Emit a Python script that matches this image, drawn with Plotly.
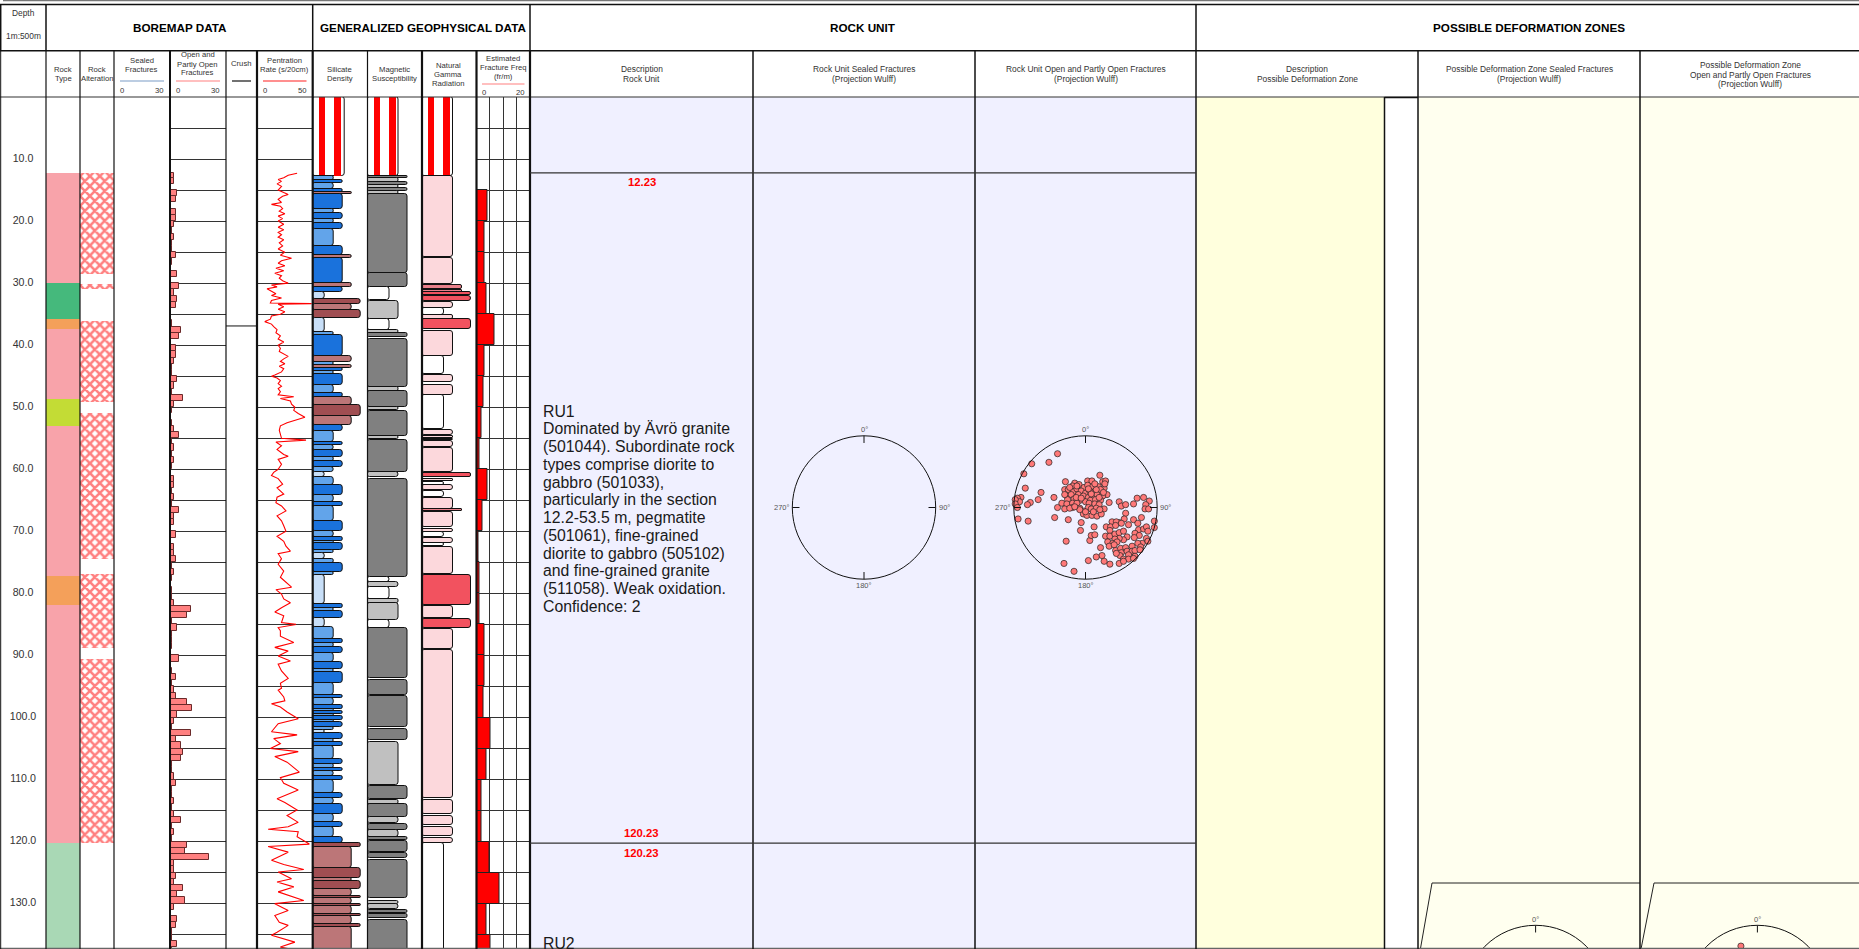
import math
import plotly.graph_objects as go

W, H = 1859, 949
FONT = "Liberation Sans"
TOP = 97
PX_PER_M = 6.205
MAX_D = (H - TOP) / PX_PER_M

DEPTH_LABELS = [10, 20, 30, 40, 50, 60, 70, 80, 90, 100, 110, 120, 130]

ROCK_TYPE = [(12.23, 30.0, "granite"), (30.0, 35.8, "diorite"), (35.8, 37.4, "pegmatite"),
             (37.4, 48.7, "granite"), (48.7, 53.0, "finegrained"), (53.0, 77.2, "granite"),
             (77.2, 81.9, "pegmatite"), (81.9, 120.23, "granite"), (120.23, 140.0, "gabbro")]
ALTERATION = [(12.23, 28.6), (30.2, 31.0), (36.1, 49.1), (51.0, 74.5), (76.8, 88.8), (90.6, 120.2)]

OPEN_TOP = [12.23, 13, 15, 16, 18, 19, 20, 21, 22, 23, 24, 25, 26, 28, 30, 31, 32, 33, 36, 37, 38, 40, 41, 42, 43,
            44, 45, 46, 47, 48, 49, 50, 52, 53, 54, 55, 56, 57, 58, 59, 61, 62, 63, 64, 65, 66, 67, 68, 70, 72, 73,
            74, 75, 76, 77, 79, 80, 81, 82, 83, 84, 85, 86, 87, 88, 90, 92, 93, 94, 95, 96, 97, 98, 99, 100, 101,
            102, 103, 104, 105, 106, 107, 108, 109, 110, 111, 112, 113, 114, 115, 116, 117, 118, 119, 120, 121,
            122, 123, 124, 125, 126, 127, 128, 129, 130, 132, 133, 134, 135, 136, 137]
OPEN_COUNT = [2, 2, 4, 3, 3, 3, 2, 1, 2, 1, 1, 3, 1, 4, 5, 2, 4, 3, 1, 6, 5, 3, 3, 2, 1,
              1, 4, 2, 1, 7, 2, 1, 1, 2, 5, 1, 2, 1, 2, 1, 2, 2, 1, 2, 1, 5, 2, 2, 3, 2, 2,
              3, 1, 2, 1, 1, 1, 2, 11, 9, 1, 4, 1, 1, 1, 5, 1, 3, 1, 2, 3, 9, 12, 4, 2, 1,
              11, 3, 6, 7, 6, 1, 1, 2, 3, 1, 1, 2, 1, 2, 6, 1, 2, 1, 9, 8,
              21, 2, 2, 3, 2, 7, 4, 8, 2, 4, 3, 1, 1, 4, 1]

CRUSH_DEPTH = [36.9]

PEN_DEPTH = [12.3, 12.6, 13, 13.3, 13.6, 14, 14.4, 14.8, 15, 15.4, 15.7, 16, 16.5, 17, 17.3, 17.6, 18, 18.4, 18.8, 19.2,
             19.6, 20, 20.5, 21, 21.4, 21.8, 22.2, 22.6, 23, 23.5, 24, 24.5, 25, 25.5, 26, 26.4, 26.8, 27.2, 27.6, 28,
             28.4, 28.8, 29.2, 29.6, 30, 30.3, 30.6, 30.9, 31.3, 31.7, 32, 32.4, 32.8, 33.2, 33.3, 33.4, 33.8, 34.2,
             34.6, 35, 35.3, 35.8, 36.2, 36.6, 37, 37.5, 38, 38.5, 39, 39.5, 40, 40.5, 41, 41.4, 41.8, 42.2, 42.6, 43,
             43.4, 43.8, 44.3, 44.8, 45, 45.3, 45.7, 46.2, 46.6, 47, 47.5, 48, 48.3, 48.6, 49, 49.5, 50, 50.5, 51, 51.6,
             52, 52.5, 53, 53.7, 55, 55.3, 55.6, 56.2, 56.8, 57.6, 57.9, 58.4, 59.2, 60, 60.5, 61, 61.5, 62.4, 63, 64,
             64.5, 65.4, 65.9, 66.7, 67.5, 68.3, 69.1, 70, 70.8, 71.6, 72.4, 73.2, 73.6, 74.4, 75.3, 76.4, 77.4, 78.2,
             79, 79.4, 80.1, 80.9, 81.5, 82.3, 83, 83.6, 84.7, 85, 85.5, 86, 86.9, 87.9, 88.7, 89.3, 90.1, 90.9, 91.4,
             92.5, 93.7, 94.5, 95.3, 95.6, 96.7, 97.3, 97.8, 98.3, 99.1, 100.2, 101, 102.3, 102.8, 103.4, 104.2, 105,
             105.5, 106.3, 107.2, 108.8, 109.7, 110.6, 111.7, 113.1, 113.7, 114.9, 115.8, 116.9, 117.6, 118, 118.4,
             119.2, 120.4, 120.8, 121.7, 123, 123.7, 124.5, 124.9, 126, 126.5, 127.3, 128.1, 129.5, 130, 131.1, 131.9,
             133, 133.5, 134.6, 135.1, 136.2, 137, 137.3]
PEN_RATE = [36, 28, 24, 19, 22, 18, 22, 20, 19, 24, 28, 23, 19, 22, 13, 21, 23, 20, 25, 19,
            23, 19, 24, 19, 24, 19, 22, 19, 24, 20, 23, 19, 25, 21, 31, 22, 19, 25, 17, 24,
            16, 22, 20, 23, 28, 13, 18, 9, 13, 17, 13, 22, 13, 12, 49, 19, 24, 19,
            25, 21, 13, 12, 7, 13, 15, 18, 17, 21, 19, 24, 19, 21, 20, 24, 28, 24, 21, 25,
            20, 24, 22, 16, 13, 18, 21, 19, 22, 19, 21, 19, 33, 21, 30, 31, 34, 33, 37, 43,
            36, 27, 21, 20, 22, 44, 17, 22, 18, 24, 28, 19, 22, 19, 15, 13, 19, 23, 18, 24,
            18, 17, 22, 26, 18, 22, 24, 26, 18, 24, 26, 30, 19, 22, 19, 24, 21, 26,
            31, 17, 22, 24, 30, 22, 16, 24, 22, 35, 19, 21, 21, 33, 16, 28, 19, 30, 19,
            22, 28, 21, 22, 19, 24, 25, 13, 21, 27, 37, 19, 13, 36, 15, 21, 12,
            37, 16, 27, 38, 21, 24, 37, 18, 25, 36, 27, 37, 28, 10, 37,
            36, 47, 10, 28, 13, 24, 42, 19, 31, 18, 33, 19, 42, 16, 28, 16,
            20, 28, 18, 13, 34, 21, 30]

SILICATE = [(12.8, 13.4, "B"), (13.4, 13.8, "C"), (13.8, 14.9, "B"), (14.9, 15.3, "C"), (15.3, 15.6, "D"),
            (15.6, 18.1, "C"), (18.1, 18.7, "B"), (18.7, 19.7, "C"), (19.7, 20.3, "B"), (20.3, 21.2, "C"),
            (21.2, 24.0, "B"), (24.0, 25.5, "C"), (25.5, 25.9, "D"), (25.9, 30.0, "C"), (30.0, 30.6, "D"),
            (30.6, 31.4, "C"), (31.4, 32.6, "A"), (32.6, 33.4, "E"), (33.4, 34.3, "D"), (34.3, 35.6, "E"),
            (35.6, 37.8, "A"), (37.8, 38.36, "B"), (38.36, 41.74, "C"), (41.74, 42.65, "D"), (42.65, 43.24, "B"),
            (43.24, 43.67, "D"), (43.67, 44.1, "C"), (44.1, 44.7, "B"), (44.7, 46.47, "C"), (46.47, 47.76, "B"),
            (47.76, 48.4, "C"), (48.4, 49.64, "D"), (49.64, 51.4, "E"), (51.4, 52.9, "D"), (52.9, 53.83, "C"),
            (53.83, 55.6, "B"), (55.6, 56.1, "C"), (56.1, 56.9, "B"), (56.9, 57.96, "C"), (57.96, 58.7, "B"),
            (58.7, 59.6, "C"), (59.6, 60.4, "B"), (60.4, 61.2, "A"), (61.2, 62.6, "B"), (62.6, 64.1, "C"),
            (64.1, 65.2, "B"), (65.2, 65.9, "C"), (65.9, 68.4, "B"), (68.4, 69.9, "C"), (69.9, 70.9, "B"),
            (70.9, 71.5, "C"), (71.5, 71.9, "B"), (71.9, 73.0, "C"), (73.0, 73.5, "B"), (73.5, 74.4, "A"),
            (74.4, 75.05, "B"), (75.05, 76.6, "C"), (76.6, 77.0, "B"), (77.0, 81.76, "A"), (81.76, 82.3, "C"),
            (82.3, 82.84, "B"), (82.84, 84.0, "C"), (84.0, 85.4, "A"), (85.4, 87.4, "B"), (87.4, 88.05, "C"),
            (88.05, 88.6, "B"), (88.6, 89.55, "C"), (89.55, 91.0, "B"), (91.0, 92.25, "C"), (92.25, 92.6, "B"),
            (92.6, 94.5, "C"), (94.5, 96.4, "B"), (96.4, 96.9, "C"), (96.9, 98.0, "B"), (98.0, 98.6, "C"),
            (98.6, 98.95, "B"), (98.95, 99.4, "C"), (99.4, 99.75, "B"), (99.75, 100.4, "C"), (100.4, 100.7, "B"),
            (100.7, 101.5, "C"), (101.5, 102.0, "B"), (102.0, 102.55, "A"), (102.55, 103.4, "C"), (103.4, 103.95, "B"),
            (103.95, 104.6, "C"), (104.6, 106.75, "B"), (106.75, 107.5, "C"), (107.5, 108.2, "B"), (108.2, 108.6, "C"),
            (108.6, 109.5, "B"), (109.5, 110.1, "C"), (110.1, 112.2, "B"), (112.2, 112.9, "C"), (112.9, 113.9, "B"),
            (113.9, 115.6, "C"), (115.6, 116.9, "B"), (116.9, 117.6, "C"), (117.6, 119.3, "B"), (119.3, 120.3, "C"),
            (120.3, 120.8, "E"), (120.8, 124.2, "D"), (124.2, 125.9, "E"), (125.9, 126.4, "D"), (126.4, 127.7, "E"),
            (127.7, 128.7, "D"), (128.7, 129.1, "E"), (129.1, 130.0, "D"), (130.0, 130.4, "E"), (130.4, 131.6, "D"),
            (131.6, 132.0, "E"), (132.0, 133.2, "D"), (133.2, 133.8, "E"), (133.8, 139.0, "D")]

MAGNETIC = [(12.8, 13.1, "C"), (13.1, 13.75, "B"), (13.75, 14.2, "C"), (14.2, 14.7, "B"), (14.7, 15.15, "C"),
            (15.15, 15.6, "B"), (15.6, 28.3, "C"), (28.4, 30.7, "C"), (30.7, 32.7, "W"), (32.8, 35.7, "B"),
            (35.7, 37.55, "W"), (37.55, 38.1, "B"), (38.1, 38.6, "C"), (39.0, 46.8, "C"), (46.8, 47.3, "B"),
            (47.4, 49.9, "C"), (50.0, 50.5, "B"), (50.65, 54.7, "C"), (54.7, 55.1, "B"), (55.2, 60.5, "C"),
            (60.5, 61.3, "B"), (61.5, 77.3, "C"), (77.3, 78.1, "W"), (78.2, 78.9, "B"), (78.9, 80.95, "W"),
            (80.95, 81.5, "B"), (81.6, 84.3, "B"), (84.3, 85.5, "W"), (85.6, 93.7, "C"), (93.9, 96.4, "C"),
            (96.5, 101.6, "C"), (101.9, 103.7, "C"), (103.9, 110.9, "B"), (111.0, 113.2, "C"), (113.3, 113.9, "B"),
            (114.0, 115.99, "C"), (116.1, 117.05, "B"), (117.2, 118.1, "C"), (118.2, 119.2, "B"), (119.2, 119.7, "C"),
            (119.9, 121.6, "C"), (121.9, 122.7, "C"), (123.0, 129.1, "C"), (129.5, 130.1, "B"), (130.1, 130.9, "B"),
            (131.0, 131.45, "C"), (131.6, 132.3, "C"), (132.7, 139.0, "C")]

GAMMA = [(12.8, 25.8, "P"), (26.0, 30.2, "P"), (30.3, 31.0, "M"), (31.1, 31.4, "M"), (31.5, 31.9, "R"),
         (32.0, 32.9, "R"), (33.0, 34.0, "P"), (34.0, 35.1, "W"), (35.2, 35.7, "P"), (35.7, 37.45, "R"),
         (37.65, 41.7, "P"), (41.7, 44.7, "W"), (44.85, 46.0, "P"), (46.4, 48.1, "P"), (48.1, 53.5, "W"),
         (53.7, 54.5, "P"), (54.6, 55.0, "P"), (55.05, 55.3, "P"), (55.4, 56.4, "P"), (56.6, 60.4, "P"),
         (60.6, 61.3, "R"), (61.5, 61.9, "P"), (62.0, 62.6, "W"), (62.6, 63.3, "P"), (63.45, 64.5, "W"),
         (64.7, 66.4, "P"), (66.45, 66.8, "M"), (66.95, 69.35, "P"), (69.7, 70.05, "P"), (70.1, 70.85, "W"),
         (71.0, 71.8, "P"), (71.9, 72.35, "W"), (72.5, 76.9, "P"), (77.1, 81.9, "R"), (82.0, 83.9, "P"),
         (84.1, 85.6, "R"), (85.8, 88.9, "P"), (89.2, 113.0, "P"), (113.35, 115.55, "P"), (115.9, 117.4, "P"),
         (117.65, 119.05, "P"), (119.4, 120.15, "P"), (120.15, 139.0, "W")]

FREQ_TOP = [15, 20, 25, 30, 35, 40, 45, 50, 55, 60, 65, 70, 75, 80, 85, 90, 95, 100, 105, 110, 115, 120, 125, 130, 135]
FREQ_VAL = [4.2, 3.1, 3.1, 3.6, 6.8, 3.0, 2.6, 1.7, 1.0, 4.2, 2.3, 0.9, 1.2, 1.2, 3.0, 3.0, 2.6, 5.4, 3.8, 1.7, 1.7,
            5.0, 8.6, 3.8, 5.4]

RU1_LINES = ["RU1", "Dominated by Ävrö granite", "(501044). Subordinate rock", "types comprise diorite to",
             "gabbro (501033),", "particularly in the section", "12.2-53.5 m, pegmatite", "(501061), fine-grained",
             "diorite to gabbro (505102)", "and fine-grained granite", "(511058). Weak oxidation.", "Confidence: 2"]

POLE_X = [-.39, -.75, -.51, -.86, -.84, -.62, -.66, -.77, -.81, -.90, -.95, -.92, -.98, -.98, -.95, -.44, -.94, -.80,
          -.43, -.24, -.39, -.27, -.30, -.16, .04, -.06, -.07,
          .20, -.28, -.15, .03, .09, .24, .28, -.18, -.09, -.02, .03, .10, .18, .26, -.29, -.24, -.17, -.12, -.06, 0,
          .06, .13, .21, .30, -.26, -.20, -.10, -.03, .04, .11, .16, .24, -.25, -.16, -.08, 0, .07, .14, .21, .33,
          -.33, -.26, -.18, -.12, .05, .13, .19, -.29, -.18, -.08, -.02, .04, .08, .15, .26, -.03, .02, .09, .16, .22,
          -.08, .20, -.13, -.06, .08, .15, -.12, .04, .25, .19, -.22, .11, .27, -.29, -.22, .13, 0, -.15,
          .47, .50, .56, .67, .72, .81, .89, .84, .83, .88, .56, .47, .54, .60, .67, .78, .96, .96, .73, .37, .43, .50,
          .29, .35, .42, .34, .28, .34, .41, .47, .53, .74, .81, .85, .87, .69, .75, .68, .85, .87, .79, .73, .77, .58,
          .53, .47, .41, .31, .38, .44, .33, .40, .21, .42, .49, .56, .65, .50, .58, .65, .69, .76, .48, .60, .69, .53,
          .60, .47, .53, .34, .26, .23, .15, .06, .08, .13, .12, .67, .43]
POLE_Y = [.75, .61, .63, .47, .27, .21, .11, .07, .04, .14, .13, .08, .11, .05, 0, .14, -.16, -.19,
          -.14, -.17, 0, -.47, -.78, -.89, -.74, -.21, -.32,
          .45, .36, .34, .37, .37, .36, .37, .30, .32, .28, .31, .29, .29, .27, .25, .25, .22, .26, .23, .20,
          .23, .22, .25, .18, .16, .18, .18, .16, .14, .16, .18, .16, .11, .12, .10, .08, .10, .11, .10, .07,
          .06, .05, .06, .06, .06, .05, .04, -.02, 0, -.01, -.05, 0, -.02, -.01, -.02, -.09, -.11, -.11, -.12, -.09,
          -.03, -.03, .14, .13, .19, .25, .30, .26, .21, .14, -.01, -.06, .33, .18, .28, .33, -.06, .01,
          .08, .02, .04, .05, .13, .14, .09, .04, -.02, -.02, -.08, -.21, -.16, -.24, -.17, -.14, -.19, -.28, -.22,
          -.20, -.20, -.22, -.27, -.27, -.25, -.32, -.40, -.40, -.37, -.35, -.33, -.31, -.30, -.27, -.33, -.36, -.39,
          -.42, -.43, -.47, -.50, -.50, -.55, -.41, -.45, -.43, -.44, -.48, -.50, -.48, -.54, -.52, -.56, -.60, -.57,
          -.56, -.54, -.63, -.61, -.61, -.60, -.59, -.67, -.66, -.68, -.72, -.72, -.78, -.75, -.79, -.75, -.67, -.69,
          -.46, -.39, -.38, -.27, -.71, -.64]
DZ_POLE_X = [-.23]
DZ_POLE_Y = [.71]

# ---- styles -------------------------------------------------------------------------------------------------------
ROCK_COLORS = {"granite": "#f8a3aa", "diorite": "#45b97c", "pegmatite": "#f4a05a", "finegrained": "#c3dc35",
               "gabbro": "#a9d8b5"}
SIL_W = {"A": 12.4, "B": 21.4, "C": 30.3, "D": 39.3, "E": 48.2}
SIL_C = {"A": "#c8dff8", "B": "#62a4ea", "C": "#1a72dc", "D": "#bc7678", "E": "#a04e52"}
MAG_W = {"W": 22.4, "B": 31, "C": 40}
MAG_C = {"W": "#ffffff", "B": "#c0c0c0", "C": "#808080"}
GAM_W = {"W": 22, "P": 31, "M": 40, "R": 48.5}
GAM_C = {"W": "#ffffff", "P": "#fcd8dc", "M": "#e8808a", "R": "#f2525f"}
TXT = "#333333"

X_EDGES = {"depth": (0, 46), "rock": (46, 80), "alt": (80, 114), "seal": (114, 170), "open": (170, 226),
           "crush": (226, 257), "pen": (257, 312.7), "sil": (312.7, 367.5), "mag": (367.5, 422), "gam": (422, 476.5),
           "freq": (476.5, 530)}


def px(x):
    return x / W


def py(y):
    return 1 - y / H


fig = go.Figure()
layout = {}
annotations = []
shapes = []
ydom = [0, py(TOP)]
axis_id = {}


def column(name, xrange, grid=False, xgrid=None):
    i = len(axis_id) + 1
    axis_id[name] = i
    x0, x1 = X_EDGES[name]
    suffix = "" if i == 1 else str(i)
    layout["xaxis" + suffix] = dict(domain=[px(x0), px(x1)], range=xrange, anchor="y" + suffix, showticklabels=False,
                                    ticks="", zeroline=False, showline=False, showgrid=xgrid is not None,
                                    dtick=xgrid, tick0=0, gridcolor="#333333", gridwidth=1)
    layout["yaxis" + suffix] = dict(domain=ydom, range=[MAX_D, 0], anchor="x" + suffix, showticklabels=False, ticks="",
                                    zeroline=False, showline=False, showgrid=grid, dtick=5, tick0=0,
                                    gridcolor="#333333", gridwidth=1)
    return "x" + suffix, "y" + suffix


def intervals(name_axes, rows, wmap, cmap, rounded=3, line="#111111"):
    xa, ya = name_axes
    fig.add_trace(go.Bar(orientation="h", y=[(a + b) / 2 for a, b, _ in rows], width=[b - a for a, b, _ in rows],
                         x=[wmap[c] for _, _, c in rows], base=0,
                         marker=dict(color=[cmap[c] for _, _, c in rows], line=dict(color=line, width=1),
                                     cornerradius=rounded), xaxis=xa, yaxis=ya, hoverinfo="skip", showlegend=False))


def no_data(axes, box_w):
    xa, ya = axes
    fig.add_trace(go.Bar(orientation="h", y=[6.4], width=[12.8], x=[box_w], base=0,
                         marker=dict(color="#ffffff", line=dict(color="#111111", width=1), cornerradius=3),
                         xaxis=xa, yaxis=ya, hoverinfo="skip", showlegend=False))
    fig.add_trace(go.Bar(orientation="h", y=[6.4, 6.4], width=[12.8, 12.8], x=[6.3, 6.3], base=[6, 21.2],
                         marker=dict(color="#ff0000", line=dict(width=0)),
                         xaxis=xa, yaxis=ya, hoverinfo="skip", showlegend=False))


def text(x, y, s, size=8.4, color=TXT, anchor="center", bold=False):
    annotations.append(dict(xref="paper", yref="paper", x=px(x), y=py(y), text=f"<b>{s}</b>" if bold else s,
                            showarrow=False, xanchor=anchor, yanchor="middle", borderpad=0,
                            font=dict(family=FONT, size=size, color=color)))


def vline(x, y0, y1, w=1, color="#111111"):
    shapes.append(dict(type="line", xref="paper", yref="paper", x0=px(x), x1=px(x), y0=py(y0), y1=py(y1),
                       line=dict(color=color, width=w)))


def hline(y, x0, x1, w=1, color="#111111"):
    shapes.append(dict(type="line", xref="paper", yref="paper", x0=px(x0), x1=px(x1), y0=py(y), y1=py(y),
                       line=dict(color=color, width=w)))


def fill(x0, x1, y0, y1, color):
    shapes.append(dict(type="rect", xref="paper", yref="paper", x0=px(x0), x1=px(x1), y0=py(y0), y1=py(y1),
                       fillcolor=color, line=dict(width=0), layer="below"))


# ---- section backgrounds --------------------------------------------------------------------------------------------
fill(530, 1196, TOP, H, "#f0f0ff")
fill(1196, 1384.5, TOP, H, "#ffffdd")
fill(1418, 1859, TOP, H, "#ffffef")

# ---- log columns ----------------------------------------------------------------------------------------------------
ax = column("depth", [0, 46])
fig.add_trace(go.Scatter(x=[23] * len(DEPTH_LABELS), y=DEPTH_LABELS, mode="text", text=[f"{d:.1f}" for d in DEPTH_LABELS],
                         textfont=dict(family=FONT, size=10.6, color=TXT), textposition="middle center",
                         xaxis=ax[0], yaxis=ax[1], hoverinfo="skip", showlegend=False, cliponaxis=False))

ax = column("rock", [0, 1])
fig.add_trace(go.Bar(orientation="h", y=[(a + b) / 2 for a, b, _ in ROCK_TYPE], width=[b - a for a, b, _ in ROCK_TYPE],
                     x=[1] * len(ROCK_TYPE), base=0,
                     marker=dict(color=[ROCK_COLORS[c] for _, _, c in ROCK_TYPE], line=dict(width=0)),
                     xaxis=ax[0], yaxis=ax[1], hoverinfo="skip", showlegend=False))

ax = column("alt", [0, 1])
fig.add_trace(go.Bar(orientation="h", y=[(a + b) / 2 for a, b in ALTERATION], width=[b - a for a, b in ALTERATION],
                     x=[1] * len(ALTERATION), base=0,
                     marker=dict(color="#ffffff", line=dict(width=0),
                                 pattern=dict(shape="x", fgcolor="#ff0000", bgcolor="#ffffff", size=7, solidity=0.6)),
                     xaxis=ax[0], yaxis=ax[1], hoverinfo="skip", showlegend=False))

column("seal", [0, 30], grid=True)

ax = column("open", [0, 30], grid=True)
open_w = [math.floor(t) + 1 - t for t in OPEN_TOP]
fig.add_trace(go.Bar(orientation="h", y=[t + w / 2 for t, w in zip(OPEN_TOP, open_w)], width=open_w, x=OPEN_COUNT, base=0,
                     marker=dict(color="#ff8080", line=dict(color="#6a2a2a", width=1)),
                     xaxis=ax[0], yaxis=ax[1], hoverinfo="skip", showlegend=False))

ax = column("crush", [0, 1])
for d in CRUSH_DEPTH:
    fig.add_trace(go.Scatter(x=[0, 1], y=[d, d], mode="lines", line=dict(color="#111111", width=1),
                             xaxis=ax[0], yaxis=ax[1], hoverinfo="skip", showlegend=False))

ax = column("pen", [0, 50], grid=True)
fig.add_trace(go.Scatter(x=PEN_RATE, y=PEN_DEPTH, mode="lines", line=dict(color="#ff0000", width=1.1),
                         xaxis=ax[0], yaxis=ax[1], hoverinfo="skip", showlegend=False))

ax = column("sil", [0, 54.8])
no_data(ax, 31.5)
intervals(ax, SILICATE, SIL_W, SIL_C)

ax = column("mag", [0, 54.5])
no_data(ax, 31)
intervals(ax, MAGNETIC, MAG_W, MAG_C)

ax = column("gam", [0, 54.5])
no_data(ax, 31)
intervals(ax, GAMMA, GAM_W, GAM_C)

ax = column("freq", [0, 20], grid=True, xgrid=5)
fig.add_trace(go.Bar(orientation="h", y=[t + 2.5 for t in FREQ_TOP], width=[5] * len(FREQ_TOP), x=FREQ_VAL, base=0,
                     marker=dict(color="#ff0000", line=dict(color="#222222", width=1)),
                     xaxis=ax[0], yaxis=ax[1], hoverinfo="skip", showlegend=False))


# ---- stereonets -----------------------------------------------------------------------------------------------------
def stereonet(name, cx, cy, xs, ys, clip_to=None):
    R = 71.7
    pad = 1.1
    i = len(axis_id) + 1
    axis_id[name] = i
    s = str(i)
    top_px = cy - R * pad
    bot_px = cy + R * pad if clip_to is None else clip_to
    layout["xaxis" + s] = dict(domain=[px(cx - R * pad), px(cx + R * pad)], range=[-pad, pad], anchor="y" + s, visible=False)
    layout["yaxis" + s] = dict(domain=[py(bot_px), py(top_px)], range=[(cy - bot_px) / R, pad], anchor="x" + s, visible=False)
    if xs:
        fig.add_trace(go.Scatter(x=xs, y=ys, mode="markers", cliponaxis=False,
                                 marker=dict(size=6.2, color="#ff7878", line=dict(color="#222222", width=0.7)),
                                 xaxis="x" + s, yaxis="y" + s, hoverinfo="skip", showlegend=False))
    ref = dict(xref="x" + s, yref="y" + s)
    shapes.append(dict(type="circle", x0=-1, x1=1, y0=-1, y1=1, line=dict(color="#111111", width=1), **ref))
    for (a0, b0, a1, b1) in [(0, 1, 0, .9), (0, -1, 0, -.9), (1, 0, .9, 0), (-1, 0, -.9, 0)]:
        shapes.append(dict(type="line", x0=a0, y0=b0, x1=a1, y1=b1, line=dict(color="#111111", width=1), **ref))
    text(cx, cy - R - 6, "0°", size=7.5, color="#555555")
    if clip_to is None:
        text(cx, cy + R + 6, "180°", size=7.5, color="#555555")
        text(cx - R - 1.5, cy, "270°", size=7.5, color="#555555", anchor="right")
        text(cx + R + 2, cy, "90°", size=7.5, color="#555555", anchor="left")


stereonet("s1", 864, 507.5, [], [])
stereonet("s2", 1085.5, 507.5, POLE_X, POLE_Y)
stereonet("s3", 1535.6, 997, [], [], clip_to=H)
stereonet("s4", 1757.4, 997, DZ_POLE_X, DZ_POLE_Y, clip_to=H)

for x0, x1, x2 in [(1420.4, 1432, 1640), (1641, 1654, 1859)]:
    shapes.append(dict(type="path", xref="paper", yref="paper",
                       path=f"M {px(x0)} {py(H)} L {px(x1)} {py(883)} L {px(x2)} {py(883)}",
                       line=dict(color="#222222", width=1)))

# ---- frame ----------------------------------------------------------------------------------------------------------
hline(0.7, 3, W, 1.2, "#777777")
hline(4.5, 0, W, 1.5)
hline(50.7, 0, W, 1.5)
hline(97, 0, W, 1.2, "#333333")
hline(948.3, 0, W, 1.2, "#666666")
for x in [0.7, 46, 312.7, 530, 1196]:
    vline(x, 4.5, 50.7, 1.5)
for x, w in [(0.7, 1), (46, 1.2), (80, 1.2), (114, 1.2), (170, 2), (226, 1.2), (257, 2.2), (312.7, 2.2), (367.5, 1.2),
             (422, 2.2), (476.5, 2.2), (530, 2.2), (753, 1.5), (975, 1.5), (1196, 1.5), (1418, 1.5), (1640, 1.5)]:
    vline(x, 50.7, H, w)
vline(1384.5, TOP, H, 1.5)
hline(TOP + 0.5, 1384.5, 1418, 1.5)
for d in [12.23, 120.23]:
    hline(TOP + d * PX_PER_M, 530, 1196, 1.2, "#333333")

# ---- texts ----------------------------------------------------------------------------------------------------------
text(23, 13, "Depth")
text(23, 36, "1m:500m")
for x, s in [(179.5, "BOREMAP DATA"), (423, "GENERALIZED GEOPHYSICAL DATA"), (863, "ROCK UNIT"),
             (1529, "POSSIBLE DEFORMATION ZONES")]:
    text(x, 28, s, size=11.7, color="#000000", bold=True)

LOG_HEADERS = [(63, [(69.3, "Rock"), (78.5, "Type")]), (97, [(69.3, "Rock"), (78.5, "Alteration")]),
               (141.5, [(60.3, "Sealed"), (69.3, "Fractures")]),
               (197.5, [(55, "Open and"), (64.3, "Partly Open"), (73, "Fractures")]),
               (241, [(64, "Crush")]), (284.5, [(60.3, "Pentration"), (69.3, "Rate (s/20cm)")]),
               (339.5, [(69.3, "Silicate"), (78.5, "Density")]), (394, [(69.3, "Magnetic"), (78.5, "Susceptibility")]),
               (448, [(65, "Natural"), (74, "Gamma"), (83, "Radiation")]),
               (503, [(58, "Estimated"), (67, "Fracture Freq"), (76, "(fr/m)")])]
WIDE_HEADERS = [(641.5, [(69.3, "Description"), (79, "Rock Unit")]),
                (863.5, [(69.3, "Rock Unit Sealed Fractures"), (79, "(Projection Wulff)")]),
                (1085.5, [(69.3, "Rock Unit Open and Partly Open Fractures"), (79, "(Projection Wulff)")]),
                (1307, [(69.3, "Description"), (79, "Possible Deformation Zone")]),
                (1529, [(69.3, "Possible Deformation Zone Sealed Fractures"), (79, "(Projection Wulff)")]),
                (1750, [(65, "Possible Deformation Zone"), (74.5, "Open and Partly Open Fractures"), (84, "(Projection Wulff)")])]
for x, rows in LOG_HEADERS:
    for y, s in rows:
        text(x, y, s, size=7.7)
for x, rows in WIDE_HEADERS:
    for y, s in rows:
        text(x, y, s, size=8.4)

for x0, x1, color, y in [(120, 164, "#7a9cc6", 81), (176, 220, "#ff8080", 81), (232, 251, "#111111", 81),
                         (263, 306.5, "#ff2020", 81), (482, 524.5, "#ff8080", 84)]:
    hline(y, x0, x1, 1.2, color)
for x, y, s in [(122, 91, "0"), (159, 91, "30"), (178, 91, "0"), (215, 91, "30"), (265, 91, "0"), (302, 91, "50"),
                (484, 92, "0"), (520, 92, "20")]:
    text(x, y, s, size=7.7)

text(641.7, 182, "12.23", size=11.3, color="#ff0000", bold=True)
text(641.7, 833.3, "120.23", size=11.3, color="#ff0000", bold=True)
text(641.7, 853.3, "120.23", size=11.3, color="#ff0000", bold=True)
for i, s in enumerate(RU1_LINES):
    text(541.5, 411 + i * 17.75, s, size=15.8, color="#1a1a1a", anchor="left")
text(541.5, 943.5, "RU2", size=15.8, color="#1a1a1a", anchor="left")

fig.update_layout(width=W, height=H, autosize=False, margin=dict(l=0, r=0, t=0, b=0), paper_bgcolor="#ffffff",
                  plot_bgcolor="rgba(0,0,0,0)", barmode="overlay", bargap=0, showlegend=False,
                  font=dict(family=FONT), annotations=annotations, shapes=shapes, **layout)

fig.write_html("out.html", config={"displayModeBar": False},
               post_script="document.body.style.margin='0';document.body.style.overflow='hidden';")
